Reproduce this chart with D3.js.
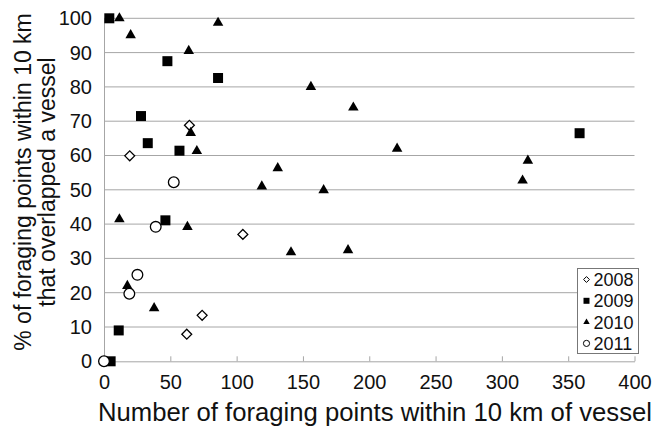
<!DOCTYPE html>
<html>
<head>
<meta charset="utf-8">
<script src="https://cdn.jsdelivr.net/npm/d3@7"></script>
<style>
  body { margin: 0; background: #fff; }
  text { font-family: "Liberation Sans", Arial, Helvetica, sans-serif; fill: #111; }
</style>
</head>
<body>
<div class="graphContainer"></div>
<script>
// values: [number of foraging points, % overlapped]
var pts2008 = [[19.4, 59.9], [64.4, 68.8], [104.7, 37.0], [74, 13.4], [62.4, 7.9]];
var pts2009 = [[4, 100], [47.8, 87.5], [86, 82.6], [27.9, 71.5], [33, 63.6], [56.9, 61.4],
               [46.3, 41.1], [11.1, 9.0], [5, 0], [358.6, 66.5]];
var pts2010 = [[11.6, 100], [20.1, 95.1], [86, 98.7], [63.9, 90.5], [65.4, 66.6], [70, 61.3],
               [119, 51], [156, 80], [188, 74], [221, 62], [131, 56.3], [165.6, 49.9],
               [141, 31.8], [184, 32.4], [319.6, 58.5], [315.6, 52.7], [11.6, 41.4],
               [62.9, 39.2], [17.6, 22], [37.8, 15.5]];
var pts2011 = [[52.6, 52.2], [39, 39.2], [25.2, 25.2], [19.1, 19.7], [0, 0]];
var years = ["2008", "2009", "2010", "2011"];
var xTicks = [0, 50, 100, 150, 200, 250, 300, 350, 400];
var yTicks = [0, 10, 20, 30, 40, 50, 60, 70, 80, 90, 100];

var w = 654, h = 429;
var mLeft = 104, mRight = 634.5, mTop = 18.3, mBottom = 361.3;

var x = d3.scaleLinear().domain([0, 400]).range([mLeft, mRight]);
var y = d3.scaleLinear().domain([0, 100]).range([mBottom, mTop]);

var svg = d3.select(".graphContainer")
  .append("svg")
  .attr("width", w)
  .attr("height", h);

// horizontal grid lines
svg.append("g")
  .selectAll("line")
  .data(yTicks.slice(1))
  .enter()
  .append("line")
    .attr("x1", mLeft)
    .attr("x2", mRight)
    .attr("y1", function (d) { return y(d); })
    .attr("y2", function (d) { return y(d); })
    .attr("stroke", "#a6a6a6")
    .attr("stroke-width", 1);

// bottom axis, ticks pointing up into the plot
var axisBottom = d3.axisBottom(x)
  .tickValues(xTicks)
  .tickSizeInner(-5)
  .tickSizeOuter(0)
  .tickPadding(14);

var gx = svg.append("g")
  .attr("transform", "translate(0," + mBottom + ")")
  .call(axisBottom);
gx.select(".domain").attr("stroke", "#a6a6a6");
gx.selectAll(".tick line").attr("stroke", "#a6a6a6");
gx.selectAll("text").attr("font-size", 20).attr("fill", "#111")
  .attr("font-family", "'Liberation Sans', Arial, sans-serif");

// left axis, no tick marks
var axisLeft = d3.axisLeft(y)
  .tickValues(yTicks)
  .tickSize(0)
  .tickPadding(12);

var gy = svg.append("g")
  .attr("transform", "translate(" + mLeft + ",0)")
  .call(axisLeft);
gy.select(".domain").attr("stroke", "#a6a6a6");
gy.selectAll("text").attr("font-size", 20).attr("fill", "#111")
  .attr("font-family", "'Liberation Sans', Arial, sans-serif");

// markers
var sym = {
  "2008": d3.symbol().type(d3.symbolDiamond2).size(62),
  "2009": d3.symbol().type(d3.symbolSquare).size(100),
  "2010": d3.symbol().type(d3.symbolTriangle).size(48),
  "2011": d3.symbol().type(d3.symbolCircle).size(90)
};
var hollow = { "2008": true, "2009": false, "2010": false, "2011": true };
var series = [pts2008, pts2009, pts2010, pts2011];

series.forEach(function (pts, i) {
  var yr = years[i];
  svg.append("g")
    .selectAll("path")
    .data(pts)
    .enter()
    .append("path")
      .attr("d", sym[yr])
      .attr("transform", function (d) {
        return "translate(" + x(d[0]) + "," + y(d[1]) + ")";
      })
      .attr("fill", hollow[yr] ? "#fff" : "#000")
      .attr("stroke", "#000")
      .attr("stroke-width", hollow[yr] ? 1.3 : 0);
});

// axis titles
svg.append("text")
  .attr("x", 98)
  .attr("y", 421)
  .attr("font-size", 25.7)
  .text("Number of foraging points within 10 km of vessel");

var yt = svg.append("text")
  .attr("transform", "translate(0,182) rotate(-90)")
  .attr("text-anchor", "middle")
  .attr("font-size", 23);
yt.append("tspan").attr("x", 0).attr("y", 31).text("% of foraging points within 10 km");
yt.append("tspan").attr("x", 0).attr("y", 55).text("that overlapped a vessel");

// legend
var lg = svg.append("g");
lg.append("rect")
  .attr("x", 577.5)
  .attr("y", 268.5)
  .attr("width", 61)
  .attr("height", 85)
  .attr("fill", "#fff")
  .attr("stroke", "#777");

var legSym = {
  "2008": d3.symbol().type(d3.symbolDiamond2).size(22),
  "2009": d3.symbol().type(d3.symbolSquare).size(36),
  "2010": d3.symbol().type(d3.symbolTriangle).size(18),
  "2011": d3.symbol().type(d3.symbolCircle).size(30)
};
var legItem = lg.selectAll("g.item")
  .data(years)
  .enter()
  .append("g")
    .attr("transform", function (d, i) { return "translate(0," + (279.5 + i * 21.3) + ")"; });
legItem.append("path")
  .attr("d", function (d) { return legSym[d](); })
  .attr("transform", "translate(586.5,0)")
  .attr("fill", function (d) { return hollow[d] ? "#fff" : "#000"; })
  .attr("stroke", "#000")
  .attr("stroke-width", function (d) { return hollow[d] ? 1 : 0; });
legItem.append("text")
  .attr("x", 593.5)
  .attr("y", 6.5)
  .attr("font-size", 18)
  .text(function (d) { return d; });
</script>
</body>
</html>
